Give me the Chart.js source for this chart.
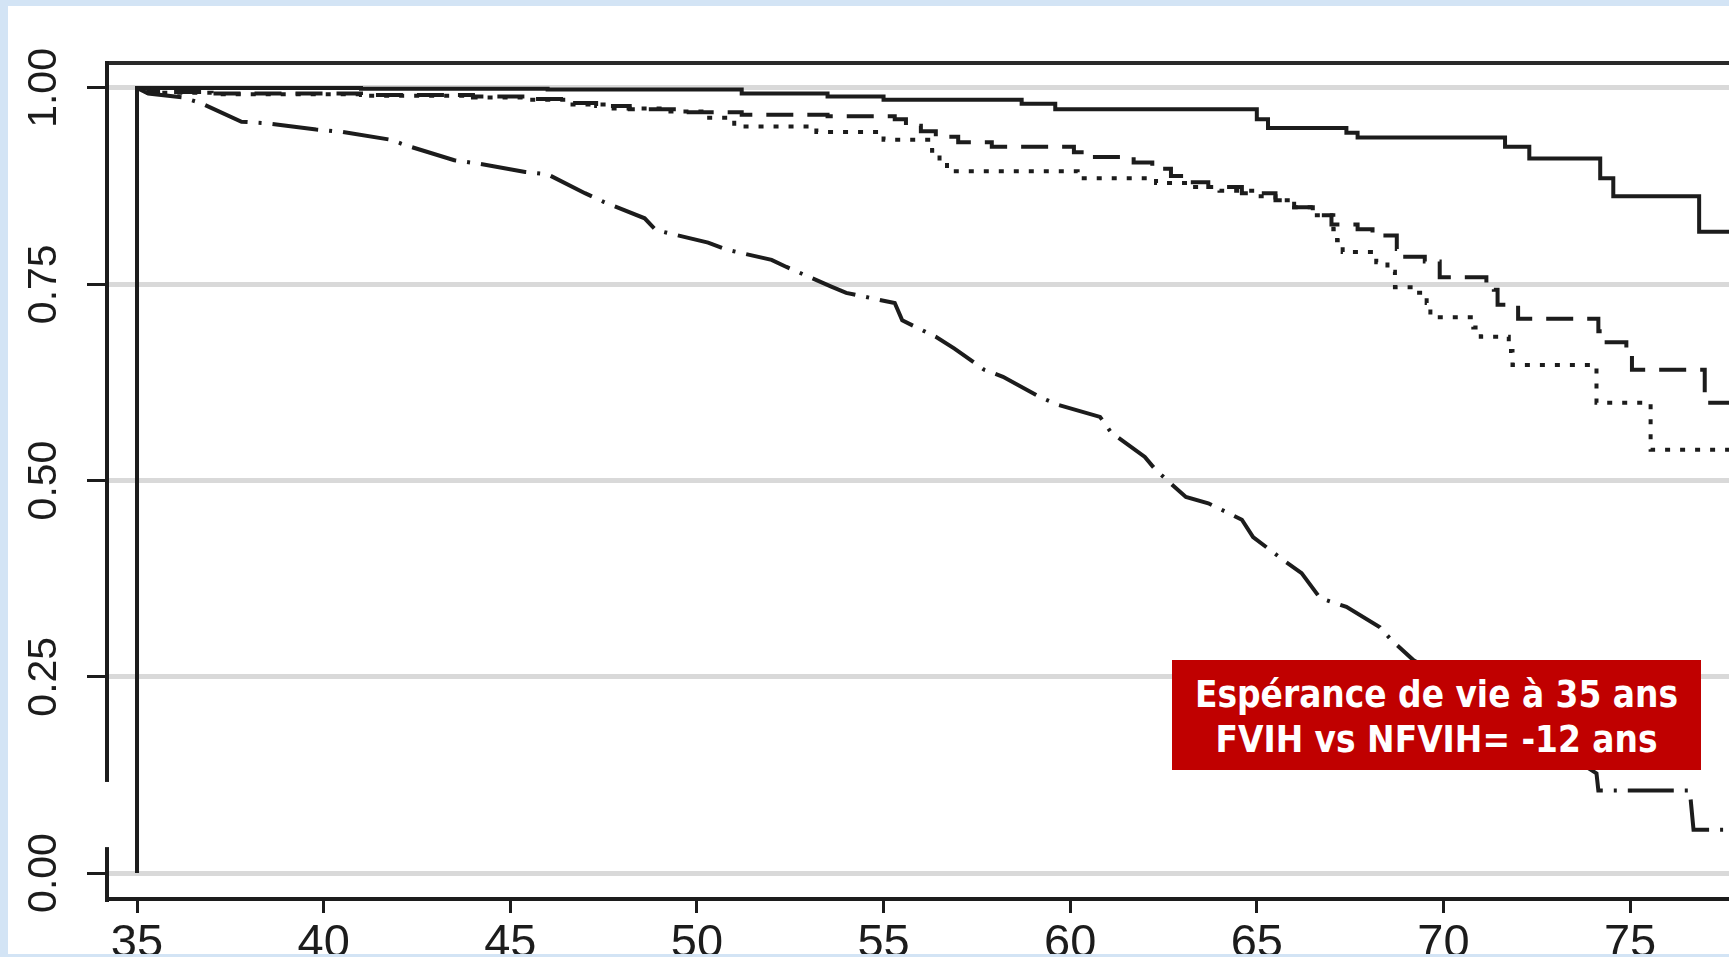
<!DOCTYPE html>
<html>
<head>
<meta charset="utf-8">
<script src="https://cdn.jsdelivr.net/npm/chart.js@4.4.1/dist/chart.umd.min.js"></script>
<style>
  html, body { margin: 0; padding: 0; }
  body { width: 1729px; height: 957px; background: #d3e4f5; position: relative; overflow: hidden; }
  #wrap { position: absolute; left: 8px; top: 6px; width: 1721px; height: 948px; background: #ffffff; overflow: hidden; }
  #c { position: absolute; left: 0; top: 0; }
  #note { position: absolute; left: 1172px; top: 660px; width: 529px; height: 110px; background: #c00000;
          color: #ffffff; font-family: "DejaVu Sans Condensed", "DejaVu Sans", "Liberation Sans", sans-serif; font-weight: bold;
          font-size: 38px; line-height: 45px; text-align: center; box-sizing: border-box; padding-top: 12px; white-space: nowrap; }
</style>
</head>
<body>
<div id="wrap"><canvas id="c" width="1721" height="948"></canvas></div>
<div id="note"><span id="l1">Espérance de vie à 35 ans</span><br><span id="l2">FVIH vs NFVIH= -12 ans</span></div>
<script>
// ---- data (age in years, survival probability after each event) ----
const solidAge = [35, 35, 41, 46, 51.2, 53.5, 55.0, 58.7, 59.6, 65.0, 65.3, 67.4, 67.7, 71.65, 72.3, 74.2, 74.55, 76.85, 78];
const solidSurv = [0, 1.0, 0.999, 0.998, 0.993, 0.989, 0.985, 0.980, 0.973, 0.960, 0.949, 0.943, 0.937, 0.925, 0.910, 0.885, 0.862, 0.817, 0.817];

const dashAge = [35, 35.3, 37, 41, 44, 45.5, 46.5, 47.3, 48.2, 49.5, 51.2, 53.5, 55.3, 55.6, 56.0, 56.4, 57.0, 57.9, 60.1, 60.5, 61.7, 62.2, 62.7, 63.2, 63.7, 64.6, 65.5, 66.0, 66.5, 67.0, 67.7, 68.1, 68.75, 68.9, 69.5, 69.9, 71.15, 71.35, 71.45, 72.0, 74.15, 74.3, 74.9, 75.05, 77.0, 78];
const dashSurv = [1.0, 0.995, 0.993, 0.991, 0.989, 0.986, 0.981, 0.977, 0.973, 0.969, 0.966, 0.964, 0.960, 0.952, 0.945, 0.938, 0.931, 0.925, 0.918, 0.912, 0.905, 0.897, 0.888, 0.880, 0.874, 0.866, 0.857, 0.848, 0.838, 0.826, 0.820, 0.812, 0.795, 0.785, 0.779, 0.759, 0.752, 0.743, 0.724, 0.706, 0.690, 0.676, 0.662, 0.641, 0.599, 0.599];

const dotAge = [35, 35.3, 37, 41, 44, 45.5, 46.5, 47.5, 49, 50.2, 51.0, 53.2, 55.0, 56.3, 56.5, 56.7, 60.2, 62.3, 63.2, 64.0, 65.0, 65.5, 66.0, 66.5, 67.05, 67.15, 67.3, 68.2, 68.5, 68.7, 69.2, 69.55, 69.65, 70.8, 71.0, 71.75, 71.85, 74.1, 75.55, 78];
const dotSurv = [1.0, 0.994, 0.992, 0.990, 0.988, 0.985, 0.979, 0.974, 0.970, 0.962, 0.951, 0.944, 0.934, 0.920, 0.905, 0.894, 0.885, 0.879, 0.874, 0.869, 0.862, 0.857, 0.848, 0.838, 0.820, 0.806, 0.791, 0.778, 0.766, 0.746, 0.739, 0.726, 0.708, 0.695, 0.683, 0.665, 0.647, 0.599, 0.539, 0.539];

const dashDotAge = [35, 35.3, 36.2, 36.7, 37.8, 38.5, 39.8, 40.5, 41.8, 42.2, 43.5, 44.1, 45.4, 46.0, 47.0, 47.5, 48.6, 48.9, 50.3, 50.8, 52.0, 52.4, 53.6, 54.0, 55.3, 55.5, 56.4, 56.9, 57.7, 58.2, 59.2, 59.7, 60.8, 61.1, 62.0, 62.3, 63.1, 63.7, 64.6, 64.9, 65.7, 66.2, 66.7, 67.4, 68.3, 68.6, 69.2, 70.0, 71.0, 72.0, 73.0, 74.1, 74.15, 76.6, 76.7, 78];
const dashDotSurv = [1.0, 0.993, 0.988, 0.981, 0.957, 0.955, 0.947, 0.944, 0.934, 0.927, 0.908, 0.904, 0.893, 0.890, 0.866, 0.855, 0.834, 0.819, 0.803, 0.794, 0.781, 0.772, 0.747, 0.739, 0.726, 0.704, 0.683, 0.668, 0.641, 0.632, 0.606, 0.596, 0.581, 0.561, 0.530, 0.513, 0.479, 0.471, 0.450, 0.428, 0.399, 0.382, 0.350, 0.339, 0.313, 0.297, 0.271, 0.250, 0.215, 0.185, 0.160, 0.127, 0.105, 0.105, 0.055, 0.055];

const xTickValues = [35, 40, 45, 50, 55, 60, 65, 70, 75];
const yTickValues = [0, 0.25, 0.5, 0.75, 1];
const yTickLabels = ['0.00', '0.25', '0.50', '0.75', '1.00'];

// ---- fit the annotation text to the box width ----
(function fitNote() {
  const cv = document.createElement('canvas').getContext('2d');
  cv.font = 'bold 40px "DejaVu Sans Condensed", "DejaVu Sans", "Liberation Sans", sans-serif';
  const w = cv.measureText('Espérance de vie à 35 ans').width;
  const size = Math.max(28, Math.min(44, 40 * 483 / w));
  document.getElementById('note').style.fontSize = size.toFixed(1) + 'px';
})();

// ---- chart ----
const toPts = (xs, ys) => xs.map((x, i) => ({ x: x, y: ys[i] }));
const X_MIN = 34.196, X_MAX = 77.65, Y_MIN = -0.0331, Y_MAX = 1.0318;
const INK = '#1c1c1c';

function lineDs(xs, ys, dash, stepped) {
  return {
    data: toPts(xs, ys), borderColor: INK, borderWidth: 4, borderDash: dash,
    borderCapStyle: 'butt', borderJoinStyle: 'miter', stepped: stepped,
    pointRadius: 0, fill: false, tension: 0
  };
}

// small break in the left frame line, as in the original figure
const frameGap = {
  id: 'frameGap',
  afterDraw(chart) {
    const { ctx, chartArea } = chart;
    const ys = chart.scales.y;
    const yTop = ys.getPixelForValue(0.116), yBot = ys.getPixelForValue(0.033);
    ctx.save();
    ctx.fillStyle = '#ffffff';
    ctx.fillRect(chartArea.left - 4, yTop, 8, yBot - yTop);
    ctx.restore();
  }
};

new Chart(document.getElementById('c'), {
  type: 'line',
  data: {
    datasets: [
      lineDs(dashDotAge, dashDotSurv, [46, 11, 3, 11], false),
      lineDs(dotAge, dotSurv, [5, 10], 'before'),
      lineDs(dashAge, dashSurv, [27, 14], 'before'),
      lineDs(solidAge, solidSurv, [], 'before')
    ]
  },
  plugins: [frameGap],
  options: {
    responsive: false, devicePixelRatio: 1, animation: false,
    layout: { padding: 0 },
    plugins: { legend: { display: false }, tooltip: { enabled: false }, title: { display: false } },
    scales: {
      x: {
        type: 'linear', position: 'bottom', min: X_MIN, max: X_MAX,
        afterBuildTicks: s => { s.ticks = xTickValues.map(v => ({ value: v })); },
        afterFit: s => { s.height = 55; s.paddingLeft = 0; s.paddingRight = 0; },
        ticks: { color: INK, font: { family: '"Liberation Sans", Arial, sans-serif', size: 47 }, padding: 3, maxRotation: 0, minRotation: 0, autoSkip: false },
        grid: { drawOnChartArea: false, drawTicks: true, tickLength: 14, tickWidth: 3, tickColor: INK, lineWidth: 3, color: INK },
        border: { display: true, color: INK, width: 4 }
      },
      x2: {
        type: 'linear', position: 'top', min: X_MIN, max: X_MAX,
        afterFit: s => { s.height = 57; s.paddingLeft = 0; s.paddingRight = 0; },
        ticks: { display: false },
        grid: { drawOnChartArea: false, drawTicks: false },
        border: { display: true, color: '#2a2a2a', width: 4 }
      },
      y: {
        type: 'linear', position: 'left', min: Y_MIN, max: Y_MAX,
        afterBuildTicks: s => { s.ticks = yTickValues.map(v => ({ value: v })); },
        afterFit: s => { s.width = 99; },
        ticks: {
          color: INK, font: { family: '"Liberation Sans", Arial, sans-serif', size: 41 },
          minRotation: 90, maxRotation: 90, crossAlign: 'center', padding: 2, autoSkip: false,
          callback: (v) => yTickLabels[yTickValues.indexOf(v)]
        },
        grid: { drawOnChartArea: true, color: '#d9d9d9', lineWidth: 5, drawTicks: true, tickLength: 20, tickWidth: 3, tickColor: INK },
        border: { display: true, color: INK, width: 4 }
      }
    }
  }
});
</script>
</body>
</html>
